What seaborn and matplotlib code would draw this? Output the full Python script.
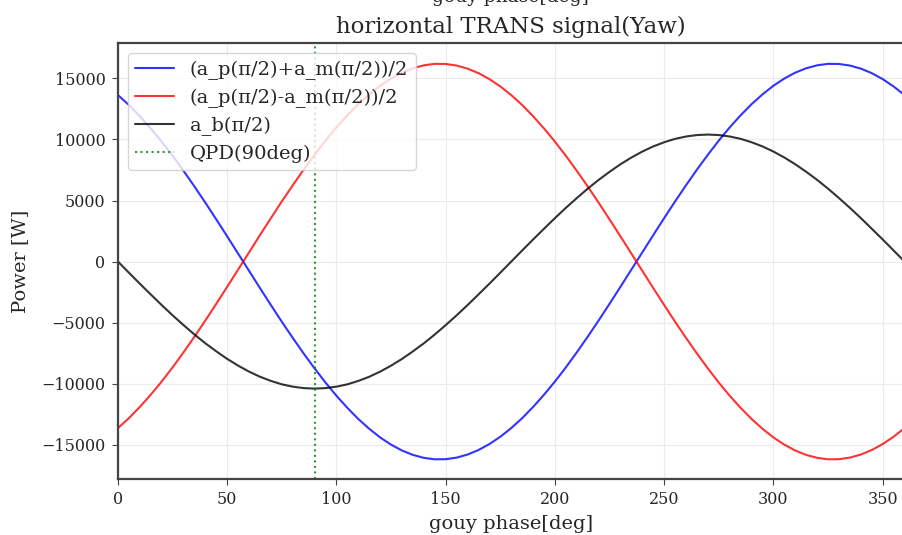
import matplotlib
matplotlib.use("Agg")
import matplotlib.pyplot as plt
import seaborn as sns
import pandas as pd

# gouy phase [deg]
phase = [0, 5, 10, 15, 20, 25, 30, 35, 40, 45, 50, 55, 60, 65, 70, 75, 80, 85, 90,
         95, 100, 105, 110, 115, 120, 125, 130, 135, 140, 145, 150, 155, 160, 165, 170, 175, 180,
         185, 190, 195, 200, 205, 210, 215, 220, 225, 230, 235, 240, 245, 250, 255, 260, 265, 270,
         275, 280, 285, 290, 295, 300, 305, 310, 315, 320, 325, 330, 335, 340, 345, 350, 355, 360]

# (a_p(pi/2)+a_m(pi/2))/2
sum_sig = [13630, 12820, 11900, 10900, 9820, 8660, 7430, 6150, 4820, 3450, 2060, 650, -760,
           -2170, -3560, -4930, -6250, -7530, -8750, -9910, -10990, -11980, -12890, -13690, -14400,
           -14990, -15470, -15830, -16070, -16190, -16180, -16050, -15800, -15430, -14940, -14340,
           -13630, -12820, -11900, -10900, -9820, -8660, -7430, -6150, -4820, -3450, -2060, -650,
           760, 2170, 3560, 4930, 6250, 7530, 8750, 9910, 10990, 11980, 12890, 13690, 14400,
           14990, 15470, 15830, 16070, 16190, 16180, 16050, 15800, 15430, 14940, 14340, 13630]

# (a_p(pi/2)-a_m(pi/2))/2
diff_sig = [-13630, -12820, -11900, -10900, -9820, -8660, -7430, -6150, -4820, -3450, -2060, -650, 760,
            2170, 3560, 4930, 6250, 7530, 8750, 9910, 10990, 11980, 12890, 13690, 14400,
            14990, 15470, 15830, 16070, 16190, 16180, 16050, 15800, 15430, 14940, 14340,
            13630, 12820, 11900, 10900, 9820, 8660, 7430, 6150, 4820, 3450, 2060, 650,
            -760, -2170, -3560, -4930, -6250, -7530, -8750, -9910, -10990, -11980, -12890, -13690, -14400,
            -14990, -15470, -15830, -16070, -16190, -16180, -16050, -15800, -15430, -14940, -14340, -13630]

# a_b(pi/2)
ab_sig = [0, -910, -1810, -2690, -3560, -4400, -5200, -5970, -6690, -7350, -7970, -8520, -9010,
          -9430, -9770, -10050, -10240, -10360, -10400, -10360, -10240, -10050, -9770, -9430, -9010,
          -8520, -7970, -7350, -6690, -5970, -5200, -4400, -3560, -2690, -1810, -910, 0,
          910, 1810, 2690, 3560, 4400, 5200, 5970, 6690, 7350, 7970, 8520, 9010, 9430, 9770,
          10050, 10240, 10360, 10400, 10360, 10240, 10050, 9770, 9430, 9010, 8520, 7970, 7350,
          6690, 5970, 5200, 4400, 3560, 2690, 1810, 910, 0]

labels = ["(a_p(π/2)+a_m(π/2))/2", "(a_p(π/2)-a_m(π/2))/2", "a_b(π/2)"]
qpd_phase = 90
xticks = [0, 50, 100, 150, 200, 250, 300, 350]
yticks = [-15000, -10000, -5000, 0, 5000, 10000, 15000]

sns.set_style("ticks")
plt.rcParams["font.family"] = ["DejaVu Serif"]

fig = plt.figure(figsize=(9.02, 5.35), dpi=100)
ax = fig.add_axes([0.1308, 0.1047, 0.872, 0.815])

df = pd.DataFrame({"phase": phase, "s": sum_sig, "d": diff_sig, "b": ab_sig})
sns.lineplot(data=df, x="phase", y="s", ax=ax, color="blue", alpha=0.8, lw=1.5, label=labels[0])
sns.lineplot(data=df, x="phase", y="d", ax=ax, color="red", alpha=0.8, lw=1.5, label=labels[1])
sns.lineplot(data=df, x="phase", y="b", ax=ax, color="black", alpha=0.8, lw=1.5, label=labels[2])
ax.axvline(qpd_phase, color="green", ls=":", lw=1.5, alpha=0.8, label="QPD(90deg)")

ax.set_xlim(0, 360)
ax.set_ylim(-17800, 17900)
ax.set_xticks(xticks)
ax.set_yticks(yticks)
ax.grid(True, color="#ebebeb", lw=0.8)
for sp in ax.spines.values():
    sp.set_color("#444444")
    sp.set_linewidth(1.6)
ax.tick_params(labelsize=11.5, color="#444444", length=4, pad=5)

ax.set_xlabel("gouy phase[deg]", fontsize=14, labelpad=5)
ax.set_ylabel("Power [W]", fontsize=14, labelpad=9)
ax.set_title("horizontal TRANS signal(Yaw)", fontsize=16.5, pad=7)
fig.text(0.566, 1.006, "gouy phase[deg]", fontsize=13.5, ha="center", va="center")

ax.legend(loc="upper left", fontsize=14, framealpha=0.8, borderaxespad=0.5,
          labelspacing=0.45, handlelength=2.0, handletextpad=0.8, borderpad=0.4)

fig.savefig("out.png", dpi=100)
